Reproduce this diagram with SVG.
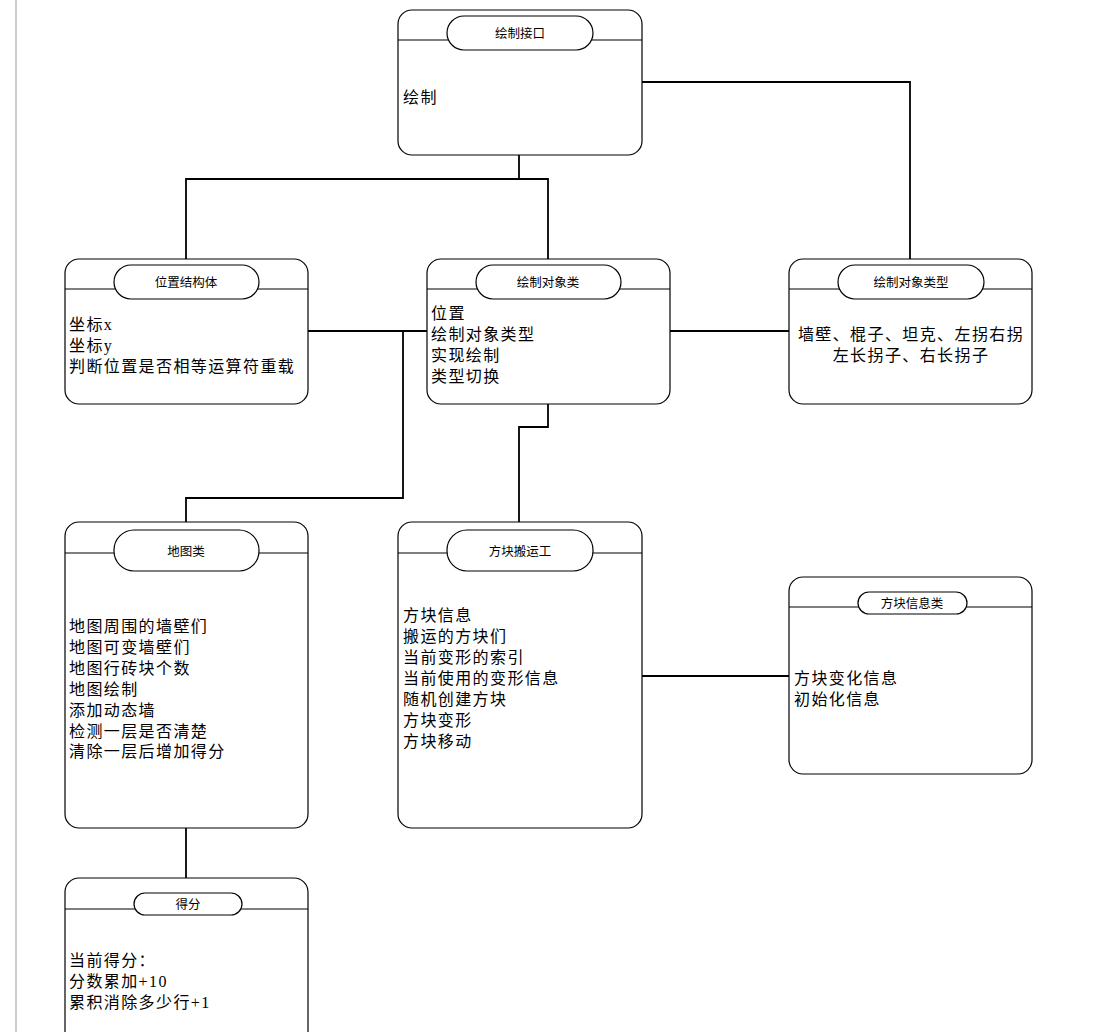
<svg xmlns="http://www.w3.org/2000/svg" width="1113" height="1032" viewBox="0 0 1113 1032">
<style>
.box{fill:#fff;stroke:#000;stroke-width:1.2}
.hd{stroke:#000;stroke-width:1.2;fill:none}
.pill{fill:#fff;stroke:#000;stroke-width:1.2}
.ttl{font-family:"Noto Sans CJK SC","Liberation Sans",sans-serif;font-size:12.5px;text-anchor:middle;dominant-baseline:central;fill:#000}
.txt{font-family:"Liberation Serif","Noto Sans CJK SC",serif;font-size:16px;letter-spacing:1.4px;dominant-baseline:central;fill:#000}
.ctr{text-anchor:middle}
.con{stroke:#000;stroke-width:1.8;fill:none}
</style>
<rect width="1113" height="1032" fill="#fff"/>
<line x1="16" y1="0" x2="16" y2="1032" stroke="#bbb" stroke-width="1.5"/>
<g id="connectors">
<polyline class="con" points="519,155 519,179"/>
<polyline class="con" points="186,259 186,179 548,179 548,259"/>
<polyline class="con" points="642,82 910,82 910,259"/>
<polyline class="con" points="308,331 427,331"/>
<polyline class="con" points="670,331 789,331"/>
<polyline class="con" points="403,331 403,498 186,498 186,522"/>
<polyline class="con" points="548,404 548,427 519,427 519,522"/>
<polyline class="con" points="642,676 789,676"/>
<polyline class="con" points="186,828 186,878"/>
</g>
<g id="node-draw-interface">
<rect class="box" x="398" y="10" width="244" height="145" rx="14"/>
<line class="hd" x1="398" y1="40" x2="642" y2="40"/>
<rect class="pill" x="447" y="16" width="146" height="34" rx="17"/>
<text class="ttl" x="520" y="32">绘制接口</text>
<text class="txt" x="403" y="97">绘制</text>
</g>
<g id="node-position">
<rect class="box" x="65" y="259" width="243" height="145" rx="14"/>
<line class="hd" x1="65" y1="289" x2="308" y2="289"/>
<rect class="pill" x="114" y="265" width="145" height="34" rx="17"/>
<text class="ttl" x="186" y="281">位置结构体</text>
<text class="txt" x="69" y="324">坐标x</text>
<text class="txt" x="69" y="345">坐标y</text>
<text class="txt" x="69" y="366">判断位置是否相等运算符重载</text>
</g>
<g id="node-draw-object">
<rect class="box" x="427" y="259" width="243" height="145" rx="14"/>
<line class="hd" x1="427" y1="289" x2="670" y2="289"/>
<rect class="pill" x="476" y="265" width="145" height="34" rx="17"/>
<text class="ttl" x="548" y="281">绘制对象类</text>
<text class="txt" x="431" y="313">位置</text>
<text class="txt" x="431" y="334">绘制对象类型</text>
<text class="txt" x="431" y="355">实现绘制</text>
<text class="txt" x="431" y="376">类型切换</text>
</g>
<g id="node-draw-object-type">
<rect class="box" x="789" y="259" width="243" height="145" rx="14"/>
<line class="hd" x1="789" y1="289" x2="1032" y2="289"/>
<rect class="pill" x="838" y="265" width="146" height="34" rx="17"/>
<text class="ttl" x="911" y="281">绘制对象类型</text>
<text class="txt ctr" x="911" y="334">墙壁、棍子、坦克、左拐右拐</text>
<text class="txt ctr" x="911" y="355">左长拐子、右长拐子</text>
</g>
<g id="node-map">
<rect class="box" x="65" y="522" width="243" height="306" rx="14"/>
<line class="hd" x1="65" y1="553" x2="308" y2="553"/>
<rect class="pill" x="114" y="530" width="145" height="41" rx="20"/>
<text class="ttl" x="186" y="550">地图类</text>
<text class="txt" x="69" y="626">地图周围的墙壁们</text>
<text class="txt" x="69" y="647">地图可变墙壁们</text>
<text class="txt" x="69" y="668">地图行砖块个数</text>
<text class="txt" x="69" y="689">地图绘制</text>
<text class="txt" x="69" y="710">添加动态墙</text>
<text class="txt" x="69" y="731">检测一层是否清楚</text>
<text class="txt" x="69" y="751">清除一层后增加得分</text>
</g>
<g id="node-block-mover">
<rect class="box" x="398" y="522" width="244" height="306" rx="14"/>
<line class="hd" x1="398" y1="553" x2="642" y2="553"/>
<rect class="pill" x="447" y="530" width="146" height="41" rx="20"/>
<text class="ttl" x="520" y="550">方块搬运工</text>
<text class="txt" x="403" y="615">方块信息</text>
<text class="txt" x="403" y="636">搬运的方块们</text>
<text class="txt" x="403" y="657">当前变形的索引</text>
<text class="txt" x="403" y="678">当前使用的变形信息</text>
<text class="txt" x="403" y="699">随机创建方块</text>
<text class="txt" x="403" y="720">方块变形</text>
<text class="txt" x="403" y="741">方块移动</text>
</g>
<g id="node-block-info">
<rect class="box" x="789" y="577" width="243" height="197" rx="14"/>
<line class="hd" x1="789" y1="607" x2="1032" y2="607"/>
<rect class="pill" x="858" y="592" width="109" height="22" rx="11"/>
<text class="ttl" x="912" y="602">方块信息类</text>
<text class="txt" x="794" y="678">方块变化信息</text>
<text class="txt" x="794" y="699">初始化信息</text>
</g>
<g id="node-score">
<rect class="box" x="65" y="878" width="243" height="180" rx="14"/>
<line class="hd" x1="65" y1="909" x2="308" y2="909"/>
<rect class="pill" x="134" y="893" width="108" height="22" rx="11"/>
<text class="ttl" x="188" y="903">得分</text>
<text class="txt" x="69" y="960">当前得分：</text>
<text class="txt" x="69" y="981">分数累加+10</text>
<text class="txt" x="69" y="1002">累积消除多少行+1</text>
</g>
</svg>
